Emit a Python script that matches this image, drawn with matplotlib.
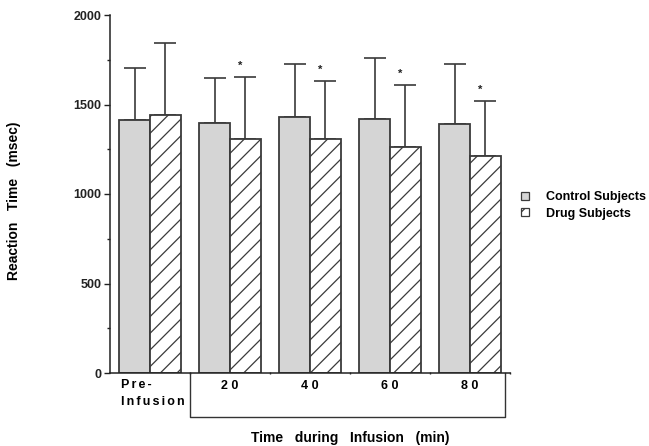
import matplotlib
matplotlib.use("Agg")
import matplotlib.pyplot as plt
import numpy as np
from matplotlib.transforms import blended_transform_factory

plt.rcParams['font.family'] = ['Liberation Sans', 'DejaVu Sans']
plt.rcParams['font.weight'] = 'bold'
plt.rcParams['hatch.linewidth'] = 0.9
plt.rcParams['hatch.color'] = '#333333'

categories = ["Pre-\nInfusion", "2 0", "4 0", "6 0", "8 0"]
control_mean = [1413, 1395, 1430, 1419, 1389]
control_err = [291, 255, 298, 341, 339]
drug_mean = [1441, 1305, 1305, 1261, 1214]
drug_err = [401, 350, 328, 350, 307]
significant = [False, True, True, True, True]
series_names = ["Control Subjects", "Drug Subjects"]

fig = plt.figure(figsize=(6.49, 4.46), dpi=100)
ax = fig.add_axes([110/649, 1-373/446, 400/649, 358/446])

x = np.arange(len(categories))
w = 0.385
edge = '#3a3a3a'
b1 = ax.bar(x - w/2, control_mean, w, color='#d5d5d5', edgecolor=edge, linewidth=1.3, label=series_names[0], zorder=2)
b2 = ax.bar(x + w/2, drug_mean, w, color='white', edgecolor=edge, linewidth=1.3, hatch='//', label=series_names[1], zorder=2)

# upper error bars only
ax.errorbar(x - w/2, control_mean, yerr=[np.zeros(len(x)), control_err], fmt='none',
            ecolor=edge, elinewidth=1.2, capsize=8, capthick=1.2, zorder=1)
ax.errorbar(x + w/2, drug_mean, yerr=[np.zeros(len(x)), drug_err], fmt='none',
            ecolor=edge, elinewidth=1.2, capsize=8, capthick=1.2, zorder=1)

for i, s in enumerate(significant):
    if s:
        ax.text(x[i] + w/2 - 0.07, drug_mean[i] + drug_err[i] + 60, '*', ha='center', va='center',
                fontsize=8, color='#222222')

ax.set_xlim(-0.5, 4.5)
ax.set_ylim(0, 2000)
ax.set_yticks([0, 500, 1000, 1500, 2000])
ax.set_yticks(np.arange(250, 2000, 500), minor=True)
ax.tick_params(axis='y', which='major', length=4, width=1, labelsize=9, colors='#222222', pad=2)
ax.tick_params(axis='y', which='minor', length=2.5, width=1, colors='#222222')
for lbl in ax.get_yticklabels():
    lbl.set_fontweight('bold')

ax.set_xticks([0.5, 1.5, 2.5, 3.5, 4.5])
ax.set_xticklabels([])
ax.tick_params(axis='x', which='major', length=2, width=1, direction='inout', colors='#222222')

for sp in ['top', 'right']:
    ax.spines[sp].set_visible(False)
for sp in ['left', 'bottom']:
    ax.spines[sp].set_color('#222222')
    ax.spines[sp].set_linewidth(1.1)

# category labels
trans = blended_transform_factory(ax.transData, fig.transFigure)
sp6 = "\u2006"
pre_lines = categories[0].split("\n")
ax.text(x[0] - 0.365, 1-385/446, sp6.join(pre_lines[0]), transform=trans, ha='left', va='center', fontsize=9)
ax.text(x[0] - 0.365, 1-402/446, sp6.join(pre_lines[1]), transform=trans, ha='left', va='center', fontsize=9)
for i in range(1, len(categories)):
    ax.text(x[i], 1-386/446, categories[i], transform=trans, ha='center', va='center', fontsize=9)

# bracket under the infusion time points
yb = 1-417/446
ax.plot([0.5, 0.5, 4.4375, 4.4375], [1-373/446, yb, yb, 1-373/446], transform=trans,
        color='#333333', linewidth=1.0, clip_on=False)

fig.text(350/649, 1-438/446, "Time   during   Infusion   (min)", ha='center', va='center', fontsize=10)
fig.text(14/649, 1-201/446, "Reaction   Time   (msec)", ha='center', va='center', rotation=90, fontsize=10)

leg = fig.legend(handles=[b1, b2], labels=series_names, loc='upper left',
                 bbox_to_anchor=(515/649, 1-185/446), frameon=False, fontsize=9,
                 handlelength=0.65, handleheight=0.65, handletextpad=1.3, labelspacing=0.35,
                 borderpad=0)
for p in leg.get_patches():
    p.set_linewidth(0.9)

fig.savefig("out.png", dpi=100)
